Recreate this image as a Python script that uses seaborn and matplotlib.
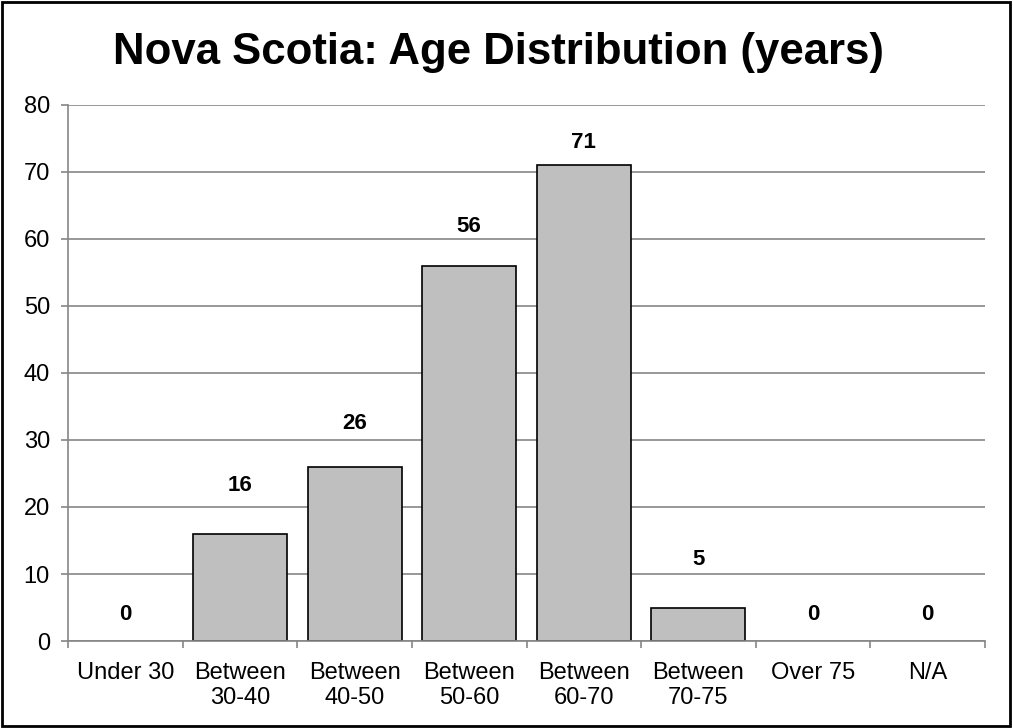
import matplotlib
matplotlib.use("Agg")
import matplotlib.pyplot as plt
import seaborn as sns
import pandas as pd
from matplotlib.patches import Rectangle
from matplotlib.ticker import FixedLocator

categories = ["Under 30", "Between\n30-40", "Between\n40-50", "Between\n50-60",
              "Between\n60-70", "Between\n70-75", "Over 75", "N/A"]
counts = [0, 16, 26, 56, 71, 5, 0, 0]
y_ticks = [0, 10, 20, 30, 40, 50, 60, 70, 80]
title = "Nova Scotia: Age Distribution (years)"

sns.set_style("white")
plt.rcParams["font.family"] = ["Liberation Sans", "DejaVu Sans"]
plt.rcParams["text.color"] = "black"
plt.rcParams["xtick.color"] = "black"
plt.rcParams["ytick.color"] = "black"

df = pd.DataFrame({"category": categories, "count": counts})

fig = plt.figure(figsize=(10.13, 7.28), dpi=100)
ax = fig.add_axes([0.0671, 0.1195, 0.9053, 0.7363])

grid_gray = "#868686"
sns.barplot(data=df, x="category", y="count", color="#BFBFBF", saturation=1,
            edgecolor="black", linewidth=1.2, width=0.82, ax=ax)

bars = [p for p in ax.patches]

# empty categories get no visible outline on the baseline
for patch in bars:
    if patch.get_height() == 0:
        patch.set_linewidth(0)

ax.set_ylim(0, 80)
ax.set_xlim(-0.5, len(categories) - 0.5)
ax.set_yticks(y_ticks)
ax.yaxis.grid(True, color=grid_gray, linewidth=1.2)
ax.set_axisbelow(True)
ax.set_xlabel("")
ax.set_ylabel("")

for side in ["top", "right"]:
    ax.spines[side].set_visible(False)
for side in ["left", "bottom"]:
    ax.spines[side].set_color(grid_gray)
    ax.spines[side].set_linewidth(1.2)

ax.tick_params(axis="y", length=5, width=1.2, color=grid_gray, pad=8,
               labelsize=17, labelcolor="black", left=True)
ax.tick_params(axis="x", which="major", length=0, pad=15, labelsize=17,
               labelcolor="black")
ax.xaxis.set_minor_locator(FixedLocator([i - 0.5 for i in range(len(categories) + 1)]))
ax.tick_params(axis="x", which="minor", length=5, width=1.2, color=grid_gray,
               bottom=True)

# value labels sit above each bar, lifted clear of the nearest gridline
label_lift_pt = [19, 34.5, 31.5, 28, 16.5, 34.5, 19, 19]
for patch, value, lift in zip(bars, counts, label_lift_pt):
    ax.annotate(str(value),
                xy=(patch.get_x() + patch.get_width() / 2, patch.get_height()),
                xytext=(0, lift), textcoords="offset points",
                ha="center", va="center", fontsize=16, fontweight="bold",
                color="black")

fig.text(0.492, 0.928, title, ha="center", va="center", fontsize=31.5,
         fontweight="bold", color="black")

fig.patches.append(Rectangle((0.002, 0.003), 0.995, 0.994, transform=fig.transFigure,
                             fill=False, edgecolor="black", linewidth=2))

fig.savefig("out.png", dpi=100)
